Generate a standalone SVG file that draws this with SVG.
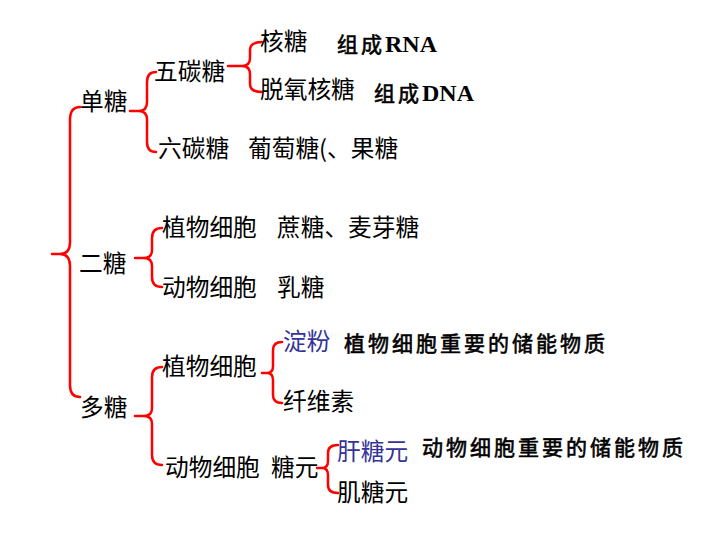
<svg xmlns="http://www.w3.org/2000/svg" width="720" height="540" viewBox="0 0 720 540">
<style>
.t{font-family:"Noto Sans CJK SC","Liberation Sans",sans-serif;font-size:23.7px;fill:#000}
.b{font-family:"Noto Sans CJK SC","Liberation Sans",sans-serif;font-size:21px;font-weight:normal;fill:#000;letter-spacing:3px;stroke:#000;stroke-width:0.6}
.e{font-family:"Liberation Serif",serif;font-weight:bold;font-size:24px;letter-spacing:0;stroke:none}
.blue{fill:#333399}
.br{fill:none;stroke:#FF0000;stroke-width:2.5;stroke-linejoin:round;stroke-linecap:round}
</style>
<rect width="720" height="540" fill="#fff"/>
<g id="connectors">
<path class="br" d="M80,107 Q70,107 70,120 V242 Q70,254 60,254 H52 M60,254 Q70,254 70,266 V385 Q70,397 80,397"/>
<path class="br" d="M156,72 Q147,72 147,82 V102 Q147,111 139,111 H130 M139,111 Q147,111 147,120 V142 Q147,152 156,152"/>
<path class="br" d="M262,42 Q250,42 250,50 V58 Q250,66 242,66 H228 M242,66 Q250,66 250,74 V84 Q250,92 262,92"/>
<path class="br" d="M162,228 Q152,228 152,238 V250 Q152,258 144,258 H135 M144,258 Q152,258 152,266 V277 Q152,287 162,287"/>
<path class="br" d="M162,367 Q152,367 152,377 V408 Q152,416 144,416 H135 M144,416 Q152,416 152,424 V455 Q152,465 162,465"/>
<path class="br" d="M282,342 Q273,342 273,350 V366 Q273,373 267,373 H262 M267,373 Q273,373 273,380 V395 Q273,403 282,403"/>
<path class="br" d="M338,445 Q328,445 328,453 V461 Q328,468 322,468 H317 M322,468 Q328,468 328,475 V485 Q328,493 338,493"/>
</g>
<g id="n-dantang"><text class="t" x="80" y="110">单糖</text></g>
<g id="n-wutan"><text class="t" x="154" y="80">五碳糖</text></g>
<g id="n-hetang"><text class="t" x="260" y="50">核糖</text><text class="b" x="337" y="52">组成<tspan class="e">RNA</tspan></text></g>
<g id="n-tuoyang"><text class="t" x="260" y="98">脱氧核糖</text><text class="b" x="374" y="101">组成<tspan class="e">DNA</tspan></text></g>
<g id="n-liutan"><text class="t" x="158" y="157">六碳糖</text><text class="t" x="248" y="157">葡萄糖(、果糖</text></g>
<g id="n-ertang"><text class="t" x="79" y="272">二糖</text></g>
<g id="n-er-zhiwu"><text class="t" x="162" y="236">植物细胞</text><text class="t" x="277" y="236">蔗糖、麦芽糖</text></g>
<g id="n-er-dongwu"><text class="t" x="162" y="296">动物细胞</text><text class="t" x="277" y="296">乳糖</text></g>
<g id="n-duotang"><text class="t" x="80" y="416">多糖</text></g>
<g id="n-duo-zhiwu"><text class="t" x="162" y="375">植物细胞</text></g>
<g id="n-dianfen"><text class="t blue" x="283" y="350">淀粉</text><text class="b" x="344" y="351">植物细胞重要的储能物质</text></g>
<g id="n-xianwei"><text class="t" x="283" y="410">纤维素</text></g>
<g id="n-duo-dongwu"><text class="t" x="165" y="476">动物细胞</text><text class="t" x="271" y="476">糖元</text></g>
<g id="n-gan"><text class="t blue" x="337" y="460">肝糖元</text><text class="b" x="422" y="455">动物细胞重要的储能物质</text></g>
<g id="n-ji"><text class="t" x="337" y="501">肌糖元</text></g>
</svg>
